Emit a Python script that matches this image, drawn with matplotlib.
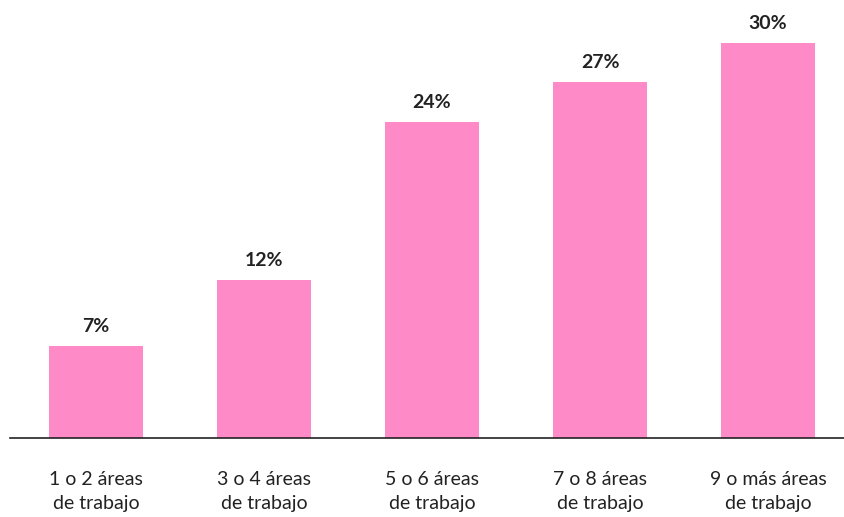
import matplotlib
matplotlib.use("Agg")
import matplotlib.pyplot as plt

categories = ["1 o 2 áreas\nde trabajo", "3 o 4 áreas\nde trabajo", "5 o 6 áreas\nde trabajo",
              "7 o 8 áreas\nde trabajo", "9 o más áreas\nde trabajo"]
values = [7, 12, 24, 27, 30]
value_labels = ["7%", "12%", "24%", "27%", "30%"]

plt.rcParams['font.family'] = ['Lato', 'DejaVu Sans']

W, H = 845, 517
fig = plt.figure(figsize=(W/100, H/100), dpi=100)
ax = fig.add_axes([10/W, (H-438)/H, (845-10)/W, 438/H])

x = list(range(len(values)))
ax.bar(x, values, width=0.56, color="#FF8AC8", zorder=2)
ax.set_xlim(-0.512, 4.458)
ax.set_ylim(0, 438/13.17)

for xi, v, lab in zip(x, values, value_labels):
    ax.annotate(lab, (xi, v), xytext=(0, 8), textcoords="offset points",
                ha="center", va="bottom", fontsize=14, fontweight="bold", color="#222222")

for s in ["top", "right", "left"]:
    ax.spines[s].set_visible(False)
ax.spines["bottom"].set_color("#222222")
ax.spines["bottom"].set_linewidth(1.2)
ax.set_yticks([])
ax.set_xticks(x)
ax.set_xticklabels(categories, fontsize=14, color="#222222", linespacing=1.5)
ax.tick_params(axis="x", length=0, pad=24)

fig.savefig("out.png", dpi=100)
